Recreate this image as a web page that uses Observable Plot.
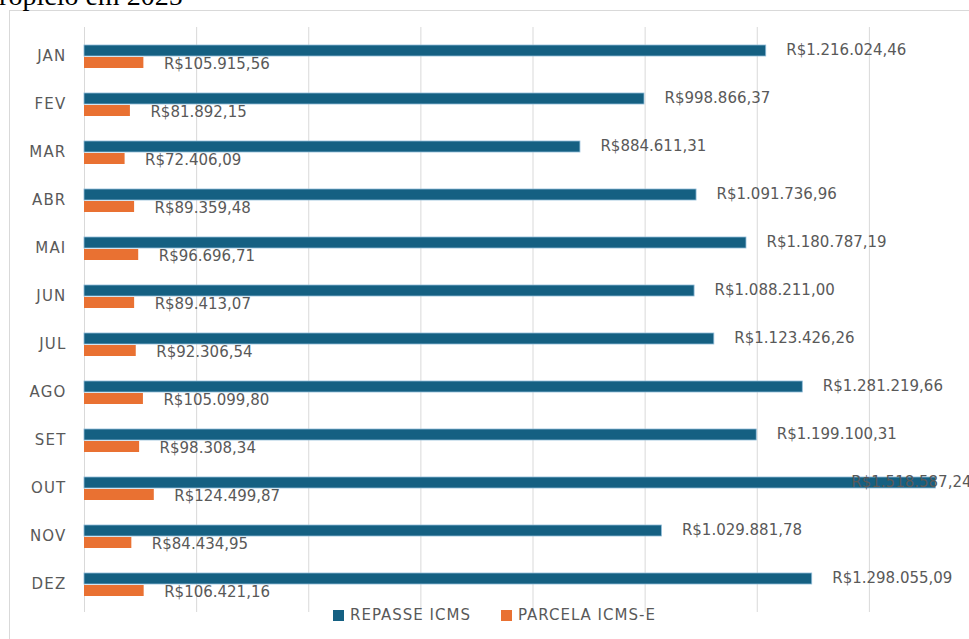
<!DOCTYPE html>
<html>
<head>
<meta charset="utf-8">
<script src="https://cdn.jsdelivr.net/npm/d3@7"></script>
<script src="https://cdn.jsdelivr.net/npm/@observablehq/plot@0.6"></script>
<style>
  html, body { margin: 0; padding: 0; background: #fff; overflow: hidden; width: 969px; height: 639px; }
  #wrap { position: relative; width: 969px; height: 639px; overflow: hidden; }
  #title { position: absolute; left: -17px; top: -18.5px; font-family: "Liberation Serif", "Times New Roman", serif; font-size: 28px; line-height: 28px; color: #000; white-space: nowrap; }
  #frame { position: absolute; left: 9px; top: 10px; width: 1200px; height: 1000px; border: 1px solid #d9d9d9; box-sizing: border-box; }
  #chart { position: absolute; left: 0; top: 0; width: 981px; height: 639px; }
  #chart svg { overflow: visible; max-width: none !important; width: 981px !important; height: 639px !important; }
  .caps { letter-spacing: 1.2px; }
  #legend { position: absolute; top: 606px; left: 333px; font-family: "DejaVu Sans", sans-serif; font-size: 15px; color: #595959; letter-spacing: 1px; display: flex; white-space: nowrap; }
  #legend .item { display: flex; align-items: center; }
  #legend .sw { width: 11px; height: 11px; margin-right: 6px; }
</style>
</head>
<body>
<div id="wrap">
  <div id="frame"></div>
  <div id="title">Tropicio em 2025</div>
  <div id="chart"></div>
  <div id="legend"></div>
</div>
<script>
const months = ["JAN","FEV","MAR","ABR","MAI","JUN","JUL","AGO","SET","OUT","NOV","DEZ"];
const repasseICMS = [1216024.46, 998866.37, 884611.31, 1091736.96, 1180787.19, 1088211.00, 1123426.26, 1281219.66, 1199100.31, 1518587.24, 1029881.78, 1298055.09];
const parcelaICMSE = [105915.56, 81892.15, 72406.09, 89359.48, 96696.71, 89413.07, 92306.54, 105099.80, 98308.34, 124499.87, 84434.95, 106421.16];
const seriesNames = ["REPASSE ICMS", "PARCELA ICMS-E"];
const seriesColors = ["#156082", "#E97132"];
const xTicks = [0, 200000, 400000, 600000, 800000, 1000000, 1200000, 1400000, 1600000];

const xMax = 1600000;
const overflowLimit = 1400000;

const brl = d3.formatLocale({decimal: ",", thousands: ".", grouping: [3], currency: ["R$", ""]}).format("$,.2f");

const rows = months.map((m, i) => ({month: m, repasse: repasseICMS[i], parcela: parcelaICMSE[i]}));
const fitRows = rows.filter(d => d.repasse < overflowLimit);
const overRows = rows.filter(d => d.repasse >= overflowLimit);

const font = "DejaVu Sans, sans-serif";
const gray = "#595959";

const chart = Plot.plot({
  width: 981,
  height: 639,
  marginLeft: 84,
  marginRight: 0,
  marginTop: 27,
  marginBottom: 27,
  style: {fontFamily: font, fontSize: "15px", background: "transparent", overflow: "visible", maxWidth: "none"},
  x: {domain: [0, xMax], axis: null},
  y: {domain: months, padding: 0, axis: null, label: null},
  marks: [
    Plot.ruleX(xTicks, {stroke: "#d9d9d9", strokeWidth: 1}),
    Plot.barX(rows, {y: "month", x: "repasse", fill: seriesColors[0], stroke: "#8fbbd8", strokeWidth: 0.8, insetTop: 13, insetBottom: 24}),
    Plot.barX(rows, {y: "month", x: "parcela", fill: seriesColors[1], insetTop: 25, insetBottom: 12}),
    Plot.axisY({tickSize: 0, tickPadding: 18, fill: gray, fontSize: 15, className: "caps", label: null}),
    Plot.text(fitRows, {y: "month", x: "repasse", text: d => brl(d.repasse), dx: 20, dy: -6, textAnchor: "start", fill: gray, fontSize: 15}),
    Plot.text(overRows, {y: "month", x: () => xMax, text: d => brl(d.repasse), dx: -10, dy: -6, textAnchor: "end", fill: gray, fontSize: 15}),
    Plot.text(rows, {y: "month", x: "parcela", text: d => brl(d.parcela), dx: 20, dy: 7.5, textAnchor: "start", fill: gray, fontSize: 15})
  ]
});
document.getElementById("chart").appendChild(chart);

const legend = document.getElementById("legend");
seriesNames.forEach((name, i) => {
  const item = document.createElement("div");
  item.className = "item";
  if (i > 0) item.style.marginLeft = "30px";
  const sw = document.createElement("div");
  sw.className = "sw";
  sw.style.background = seriesColors[i];
  const label = document.createElement("span");
  label.textContent = name;
  item.appendChild(sw);
  item.appendChild(label);
  legend.appendChild(item);
});
</script>
</body>
</html>
